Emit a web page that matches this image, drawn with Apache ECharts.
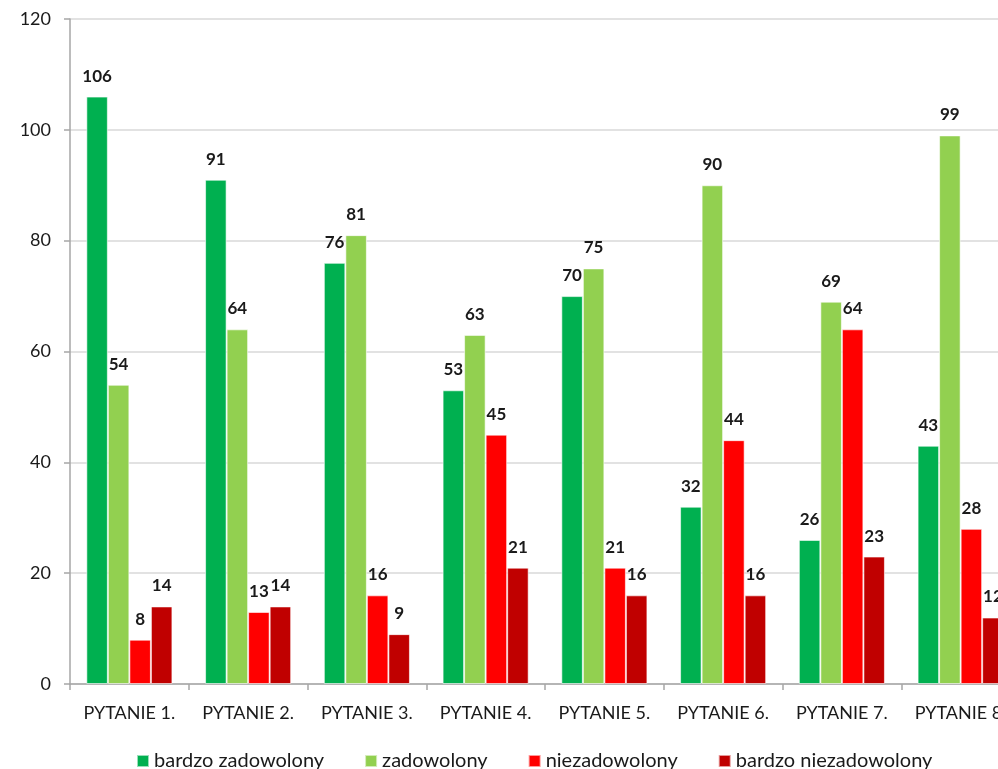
<!DOCTYPE html>
<html><head><meta charset="utf-8">
<script src="https://cdn.jsdelivr.net/npm/echarts@6/dist/echarts.min.js"></script>
<style>html,body{margin:0;padding:0;background:#fff}#c{width:998px;height:769px}</style>
</head><body><div id="c"></div>
<script>
var categories = ['PYTANIE 1.','PYTANIE 2.','PYTANIE 3.','PYTANIE 4.','PYTANIE 5.','PYTANIE 6.','PYTANIE 7.','PYTANIE 8.'];
var seriesNames = ['bardzo zadowolony','zadowolony','niezadowolony','bardzo niezadowolony'];
var bardzoZadowolony = [106, 91, 76, 53, 70, 32, 26, 43];
var zadowolony = [54, 64, 81, 63, 75, 90, 69, 99];
var niezadowolony = [8, 13, 16, 45, 21, 44, 64, 28];
var bardzoNiezadowolony = [14, 14, 9, 21, 16, 16, 23, 12];
var colors = ['#00B050','#92D050','#FF0000','#C00000'];
var font = 'Lato, "Open Sans", sans-serif';
var values = [bardzoZadowolony, zadowolony, niezadowolony, bardzoNiezadowolony];
var chart = echarts.init(document.getElementById('c'));
chart.setOption({
  animation: false,
  textStyle: {fontFamily: font},
  grid: {left: 70, width: 950, top: 19, height: 665, outerBoundsMode: 'none', containLabel: false},
  legend: {
    top: 746, left: 131, itemWidth: 12, itemHeight: 12, itemGap: 40, icon: 'rect',
    textStyle: {fontSize: 20, color: '#1a1a1a', fontFamily: font},
    data: seriesNames
  },
  xAxis: {
    type: 'category', data: categories,
    axisLine: {lineStyle: {color: '#a6a6a6', width: 1.5}},
    axisTick: {show: true, interval: 0, length: 6, lineStyle: {color: '#a6a6a6', width: 1.5}},
    axisLabel: {interval: 0, fontSize: 18, color: '#1a1a1a', margin: 20, fontFamily: font, hideOverlap: false}
  },
  yAxis: {
    type: 'value', min: 0, max: 120, interval: 20,
    axisLine: {show: true, lineStyle: {color: '#a6a6a6', width: 1.5}},
    axisTick: {show: true, length: 6, lineStyle: {color: '#a6a6a6', width: 1.5}},
    splitLine: {lineStyle: {color: '#d9d9d9', width: 1.5}},
    axisLabel: {fontSize: 18, color: '#1a1a1a', margin: 19, fontFamily: font}
  },
  series: seriesNames.map(function(n, i){
    return {
      name: n, type: 'bar', data: values[i],
      barGap: '0%', barCategoryGap: '27.5%',
      itemStyle: {color: colors[i], borderColor: 'rgba(255,255,255,0.6)', borderWidth: 1},
      label: {show: true, position: 'top', distance: 12, fontSize: 17, fontWeight: 'bold', color: '#1a1a1a', fontFamily: font}
    };
  })
});
</script></body></html>
